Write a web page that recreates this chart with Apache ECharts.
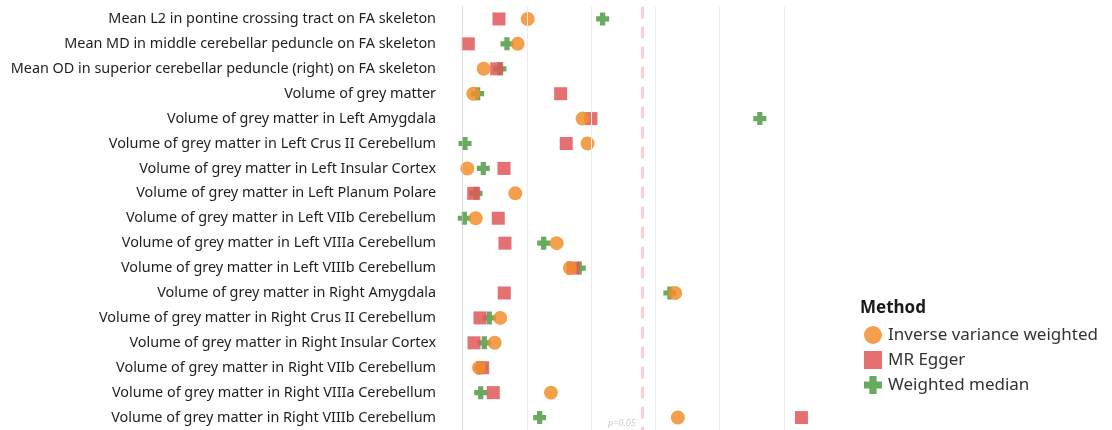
<!DOCTYPE html>
<html>
<head>
<meta charset="utf-8">
<script src="https://cdn.jsdelivr.net/npm/echarts@6/dist/echarts.min.js"></script>
<style>
html, body { margin: 0; padding: 0; background: #fff; }
#chart { width: 1112px; height: 430px; }
</style>
</head>
<body>
<div id="chart"></div>
<script>
var categories = [
  "Mean L2 in pontine crossing tract on FA skeleton",
  "Mean MD in middle cerebellar peduncle on FA skeleton",
  "Mean OD in superior cerebellar peduncle (right) on FA skeleton",
  "Volume of grey matter",
  "Volume of grey matter in Left Amygdala",
  "Volume of grey matter in Left Crus II Cerebellum",
  "Volume of grey matter in Left Insular Cortex",
  "Volume of grey matter in Left Planum Polare",
  "Volume of grey matter in Left VIIb Cerebellum",
  "Volume of grey matter in Left VIIIa Cerebellum",
  "Volume of grey matter in Left VIIIb Cerebellum",
  "Volume of grey matter in Right Amygdala",
  "Volume of grey matter in Right Crus II Cerebellum",
  "Volume of grey matter in Right Insular Cortex",
  "Volume of grey matter in Right VIIb Cerebellum",
  "Volume of grey matter in Right VIIIa Cerebellum",
  "Volume of grey matter in Right VIIIb Cerebellum"
];

// -log10(p) style values
var ivw = [1.012, 0.856, 0.327, 0.165, 1.867, 1.945, 0.072, 0.819, 0.202, 1.463, 1.670, 3.308, 0.585, 0.498, 0.254, 1.374, 3.350];
var egger = [0.565, 0.087, 0.529, 1.525, 1.997, 1.612, 0.643, 0.171, 0.554, 0.658, 1.721, 0.647, 0.269, 0.176, 0.311, 0.476, 5.275];
var wmedian = [2.179, 0.689, 0.580, 0.233, 4.627, 0.036, 0.321, 0.207, 0.025, 1.261, 1.815, 3.226, 0.414, 0.336, 0.285, 0.280, 1.198];

var gridTicks = [1, 2, 3, 4, 5];
var pThreshold = 2.786;
var pLabel = "p=0.05";

var plusPath = "path://M3,0 L7,0 L7,3 L10,3 L10,7 L7,7 L7,10 L3,10 L3,7 L0,7 L0,3 L3,3 Z";

function pts(arr) {
  return arr.map(function (v, i) { return [v, categories[i]]; });
}

var gridLines = [{ xAxis: 0, lineStyle: { color: "#cfcfcf", type: "dotted", width: 1 } }];
gridTicks.forEach(function (t) {
  gridLines.push({ xAxis: t, lineStyle: { color: "#ececec", type: "solid", width: 1 } });
});
gridLines.push({ xAxis: pThreshold, lineStyle: { color: "#fbcfd3", type: [12, 8], width: 3 } });

var chart = echarts.init(document.getElementById("chart"));
var option = {
  animation: false,
  textStyle: { fontFamily: "Noto Sans" },
  grid: { left: 441, right: 264, top: 6.5, height: 425 },
  xAxis: {
    type: "value",
    min: -0.338,
    max: 6,
    axisLine: { show: false },
    axisTick: { show: false },
    axisLabel: { show: false },
    splitLine: { show: false }
  },
  yAxis: {
    type: "category",
    data: categories,
    inverse: true,
    axisLine: { show: true, lineStyle: { color: "#ececec", width: 1 } },
    axisTick: { show: false },
    splitLine: { show: false },
    axisLabel: { color: "#1e1e1e", fontSize: 14.4, margin: 5, fontFamily: "Noto Sans" }
  },
  title: {
    text: "Method",
    left: 855,
    top: 295,
    textStyle: { fontSize: 17, fontWeight: "bold", color: "#1a1a1a", fontFamily: "Noto Sans" }
  },
  legend: {
    orient: "vertical",
    left: 859,
    top: 321,
    itemWidth: 18,
    itemHeight: 18,
    itemGap: 7,
    data: [
      { name: "Inverse variance weighted", icon: "circle" },
      { name: "MR Egger", icon: "rect" },
      { name: "Weighted median", icon: plusPath }
    ],
    textStyle: { fontSize: 17, color: "#333", fontFamily: "Noto Sans", padding: [0, 0, 0, 1] }
  },
  series: [
    {
      name: "Weighted median",
      type: "scatter",
      symbol: plusPath,
      symbolSize: 13,
      itemStyle: { color: "#59a14f", opacity: 0.9 },
      data: pts(wmedian),
      markLine: {
        silent: true,
        symbol: "none",
        label: { show: false },
        data: gridLines
      }
    },
    {
      name: "MR Egger",
      type: "scatter",
      symbol: "rect",
      symbolSize: 13,
      itemStyle: { color: "#e15759", opacity: 0.85 },
      data: pts(egger)
    },
    {
      name: "Inverse variance weighted",
      type: "scatter",
      symbol: "circle",
      symbolSize: 14,
      itemStyle: { color: "#f28e2b", opacity: 0.85 },
      data: pts(ivw)
    },
    {
      name: "threshold label",
      type: "scatter",
      symbolSize: 0,
      silent: true,
      data: [[pThreshold, categories[categories.length - 1]]],
      label: {
        show: true,
        position: "left",
        offset: [-1, 6],
        formatter: pLabel,
        fontSize: 9,
        fontStyle: "italic",
        color: "#bdbdbd"
      }
    }
  ]
};
chart.setOption(option);
</script>
</body>
</html>
